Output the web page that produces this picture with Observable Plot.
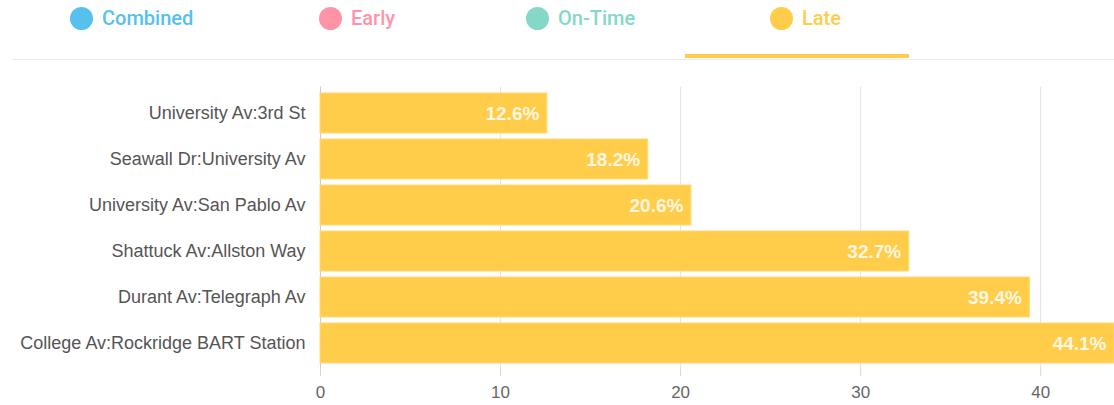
<!DOCTYPE html>
<html>
<head>
<meta charset="utf-8">
<script src="https://cdn.jsdelivr.net/npm/d3@7"></script>
<script src="https://cdn.jsdelivr.net/npm/@observablehq/plot@0.6"></script>
<style>
  html, body { margin: 0; padding: 0; background: #fff; }
  #legend { position: relative; width: 1114px; height: 62px; font-family: Roboto, "Noto Sans", sans-serif; }
  .item { position: absolute; top: 6px; height: 24px; display: flex; align-items: center; font-size: 20px; font-weight: 500; white-space: nowrap; }
  .dot { width: 23px; height: 23px; border-radius: 50%; margin-right: 9px; flex: none; }
  #rule { position: absolute; left: 12px; right: 0; top: 59px; height: 1px; background: #ececec; }
  #under { position: absolute; top: 54px; height: 4px; background: #ffcd4a; }
</style>
</head>
<body>
<div id="legend"></div>
<div id="chart"></div>
<script>
const legendNames = ["Combined", "Early", "On-Time", "Late"];
const legendColors = ["#56c1ec", "#ff94a9", "#85d8c7", "#ffcd4a"];
const activeSeries = "Late";

const stops = [
  "University Av:3rd St",
  "Seawall Dr:University Av",
  "University Av:San Pablo Av",
  "Shattuck Av:Allston Way",
  "Durant Av:Telegraph Av",
  "College Av:Rockridge BART Station"
];
const lateValues = [12.6, 18.2, 20.6, 32.7, 39.4, 44.1];
const xTicks = [0, 10, 20, 30, 40];

const data = stops.map((s, i) => ({stop: s, value: lateValues[i]}));

// legend tabs (layout only)
const dotLeft = [70, 319, 526, 770];
const legend = document.getElementById("legend");
legendNames.forEach((name, i) => {
  const item = document.createElement("div");
  item.className = "item";
  item.style.left = dotLeft[i] + "px";
  item.style.color = legendColors[i];
  const dot = document.createElement("span");
  dot.className = "dot";
  dot.style.background = legendColors[i];
  item.appendChild(dot);
  item.appendChild(document.createTextNode(name));
  legend.appendChild(item);
  if (name === activeSeries) {
    const u = document.createElement("div");
    u.id = "under";
    u.style.left = (13 + i * 224) + "px";
    u.style.width = "224px";
    legend.appendChild(u);
  }
});
const rule = document.createElement("div");
rule.id = "rule";
legend.appendChild(rule);

const chart = Plot.plot({
  width: 1114,
  height: 343,
  marginLeft: 320,
  marginRight: 0,
  marginTop: 24.5,
  marginBottom: 36,
  style: {fontFamily: "'Liberation Sans', Arial, sans-serif", background: "#fff"},
  x: {domain: [0, 44.1], ticks: xTicks, label: null},
  y: {domain: stops, padding: 0.13, label: null},
  marks: [
    Plot.gridX(xTicks.filter(d => d > 0), {stroke: "#e3e3e3", strokeOpacity: 1}),
    Plot.ruleX([0], {stroke: "#cfcfcf"}),
    Plot.barX(data, {y: "stop", x: "value", fill: "#ffcd4a", stroke: "#ffd970", strokeWidth: 1}),
    Plot.text(data, {
      y: "stop", x: "value", text: d => d.value.toFixed(1) + "%",
      textAnchor: "end", dx: -8, fill: "#ffffff", fillOpacity: 0.85,
      fontSize: 19, fontWeight: "bold"
    }),
    Plot.axisX({ticks: xTicks, tickSize: 7, tickPadding: 9, stroke: "#d6d6d6", fill: "#666", fontSize: 17, label: null}),
    Plot.axisY({tickSize: 0, tickPadding: 15, fill: "#555", fontSize: 18, label: null})
  ]
});
document.getElementById("chart").appendChild(chart);
</script>
</body>
</html>
